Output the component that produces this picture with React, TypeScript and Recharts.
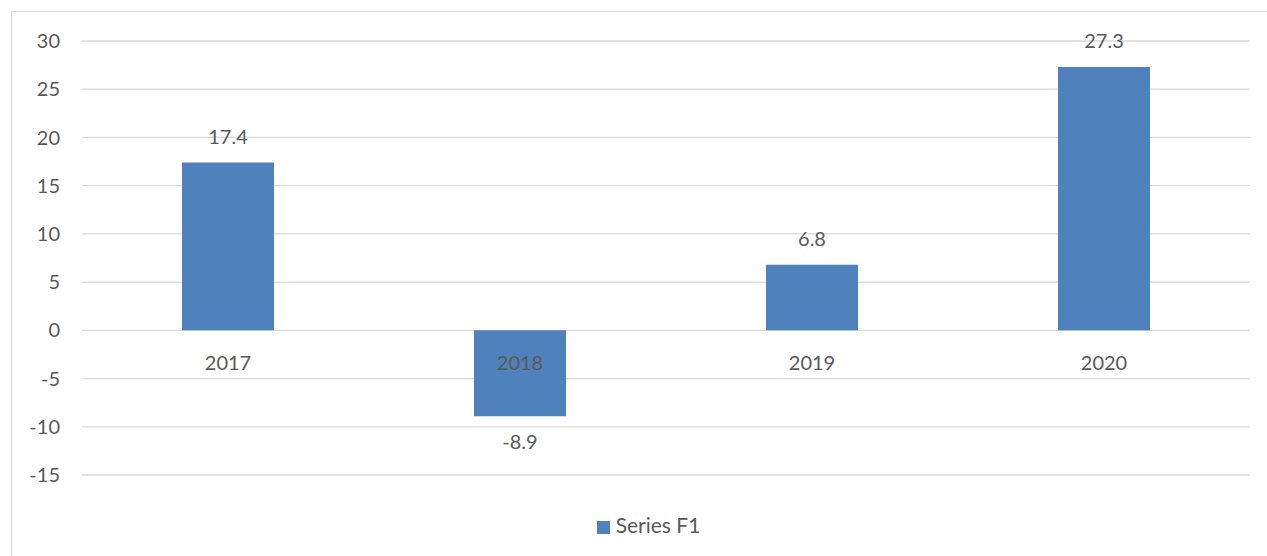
import React from 'react';
import { BarChart, Bar, XAxis, YAxis, CartesianGrid, Legend, LabelList, ReferenceDot } from 'recharts';

const years = ['2017', '2018', '2019', '2020'];
const seriesF1 = [17.4, -8.9, 6.8, 27.3];
const yTicks = [-15, -10, -5, 0, 5, 10, 15, 20, 25, 30];

const data = years.map((year, i) => ({ year, f1: seriesF1[i] }));

const FONT = 'Lato, "Noto Sans", sans-serif';
const TEXT = '#595959';
const FS = 20;

const App: React.FC = () => {
  return (
    <div style={{ position: 'absolute', left: 0, top: 0, width: 1267, height: 556, overflow: 'hidden', background: '#fff', fontFamily: FONT }}>
      <div
        style={{
          position: 'absolute',
          left: 11,
          top: 11,
          width: 1300,
          height: 600,
          border: '1px solid #D9D9D9',
          boxSizing: 'border-box',
        }}
      />
      <div style={{ position: 'absolute', left: 0, top: 0 }}>
        <BarChart
          width={1267}
          height={556}
          data={data}
          margin={{ top: 41, right: 17, bottom: 81, left: 0 }}
          barSize={92}
        >
          <CartesianGrid vertical={false} stroke="#D9D9D9" strokeWidth={1.3} />
          <XAxis dataKey="year" hide />
          <YAxis
            width={82}
            domain={[-15, 30]}
            ticks={yTicks}
            interval={0}
            axisLine={false}
            tickLine={false}
            tickMargin={16}
            tick={{ fill: TEXT, fontSize: FS, fontFamily: FONT }}
          />
          <Bar dataKey="f1" name="Series F1" fill="#4F81BD" isAnimationActive={false}>
            <LabelList dataKey="f1" position="top" offset={19} fill={TEXT} fontSize={FS} fontFamily={FONT} />
          </Bar>
          {years.map((year) => (
            <ReferenceDot
              key={year}
              x={year}
              y={0}
              r={0}
              fill="none"
              stroke="none"
              label={{ value: year, position: 'bottom', offset: 25, fill: TEXT, fontSize: FS, fontFamily: FONT }}
            />
          ))}
          <Legend
            verticalAlign="middle"
            align="center"
            iconType="square"
            iconSize={13}
            wrapperStyle={{ top: 512, left: 20, width: 1267, fontFamily: FONT, fontSize: 21 }}
            formatter={(value) => <span style={{ color: TEXT, marginLeft: 2 }}>{value}</span>}
          />
        </BarChart>
      </div>
    </div>
  );
};

export default App;
